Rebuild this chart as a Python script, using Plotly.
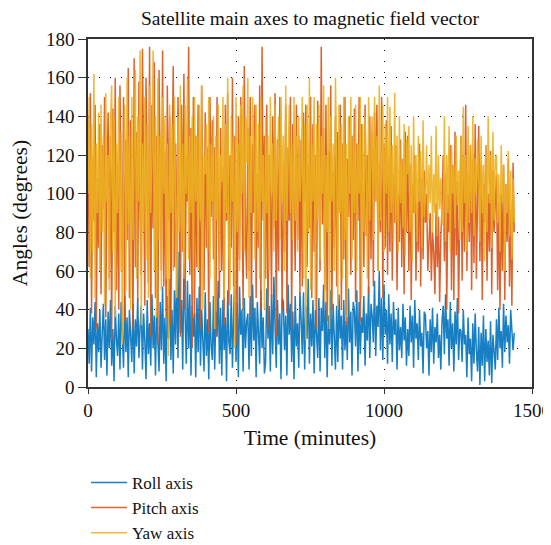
import plotly.graph_objects as go

# one sample every 4 minutes, 0..1440
step_minutes = 4

roll_axis = [
    30, 12, 41, 8, 36, 22, 44, 5, 33, 18, 40, 10, 28, 43, 14,
    35, 6, 39, 20, 45, 11, 30, 3, 42, 25, 16, 38, 9, 44, 22,
    10, 47, 18, 36, 5, 40, 26, 13, 43, 7, 35, 21, 46, 15, 31,
    42, 9, 38, 24, 4, 45, 17, 33, 11, 48, 20, 37, 6, 41, 28,
    8, 44, 19, 52, 12, 36, 3, 47, 25, 56, 14, 40, 7, 50, 22,
    60, 15, 70, 28, 45, 9, 64, 33, 12, 55, 20, 48, 6, 42, 26,
    38, 5, 46, 18, 52, 11, 40, 24, 8, 49, 16, 35, 4, 44, 21,
    14, 47, 9, 39, 26, 55, 12, 41, 6, 45, 19, 36, 3, 50, 23,
    17, 48, 10, 37, 60, 13, 43, 5, 52, 27, 40, 8, 46, 20, 34,
    38, 9, 47, 16, 53, 24, 41, 5, 44, 29, 12, 50, 20, 36, 7,
    13, 51, 25, 42, 8, 48, 17, 57, 31, 10, 45, 22, 38, 4, 46,
    44, 19, 37, 6, 53, 27, 43, 13, 39, 4, 47, 21, 33, 10, 49,
    35, 17, 49, 9, 42, 25, 56, 12, 38, 21, 45, 7, 40, 28, 15,
    46, 8, 41, 29, 53, 15, 44, 5, 37, 22, 50, 11, 43, 26, 9,
    42, 13, 48, 25, 37, 9, 45, 19, 34, 14, 51, 23, 39, 6, 44,
    40, 21, 50, 8, 44, 17, 36, 28, 47, 11, 38, 24, 52, 15, 43,
    37, 23, 55, 16, 42, 31, 60, 19, 46, 14, 53, 27, 40, 12, 48,
    22, 38, 13, 44, 27, 35, 9, 41, 19, 31, 15, 43, 24, 36, 11,
    30, 16, 42, 23, 37, 10, 45, 25, 33, 14, 40, 21, 28, 7, 39,
    37, 20, 29, 6, 35, 18, 41, 12, 31, 23, 38, 15, 27, 9, 34,
    42, 17, 48, 25, 35, 11, 44, 20, 33, 8, 39, 22, 46, 14, 30,
    29, 13, 40, 22, 27, 5, 36, 17, 25, 3, 33, 12, 38, 19, 8,
    31, 1, 28, 11, 37, 3, 30, 13, 24, 6, 34, 2, 27, 15, 9,
    35, 14, 41, 20, 29, 10, 43, 18, 37, 23, 32, 12, 40, 25, 19,
    28,
]

pitch_axis = [
    140, 62, 152, 38, 118, 86, 146, 30, 108, 72, 136, 48, 125, 92, 150,
    36, 102, 142, 56, 130, 24, 144, 80, 160, 50, 116, 40, 156, 96, 60,
    150, 34, 128, 76, 165, 46, 138, 100, 30, 170, 62, 132, 44, 158, 88,
    58, 175, 90, 42, 160, 110, 54, 176, 26, 146, 82, 168, 46, 130, 22,
    164, 98, 60, 174, 52, 122, 36, 156, 86, 140, 32, 112, 166, 62, 126,
    46, 150, 92, 26, 146, 70, 162, 40, 120, 96, 176, 58, 134, 20, 150,
    36, 130, 62, 146, 80, 30, 156, 100, 50, 142, 72, 124, 28, 150, 88,
    138, 66, 124, 26, 150, 90, 46, 134, 60, 114, 32, 146, 86, 152, 42,
    120, 72, 160, 52, 130, 96, 22, 140, 66, 150, 110, 40, 166, 80, 56,
    134, 60, 150, 36, 126, 90, 146, 46, 110, 72, 156, 40, 176, 86, 130,
    56, 146, 30, 120, 100, 46, 140, 82, 152, 26, 128, 60, 150, 96, 40,
    116, 70, 146, 38, 124, 86, 150, 30, 136, 102, 60, 146, 76, 130, 48,
    128, 52, 142, 96, 146, 62, 116, 82, 150, 46, 136, 70, 120, 30, 148,
    104, 60, 176, 84, 134, 50, 146, 34, 122, 96, 156, 40, 112, 72, 140,
    52, 132, 90, 146, 40, 126, 66, 150, 32, 118, 88, 140, 58, 130, 76,
    144, 44, 126, 86, 150, 34, 136, 100, 62, 146, 78, 120, 48, 140, 66,
    132, 52, 142, 96, 146, 60, 116, 80, 150, 46, 126, 72, 138, 58, 118,
    70, 135, 55, 110, 85, 125, 50, 100, 75, 128, 62, 118, 48, 132, 80,
    130, 60, 115, 45, 105, 90, 120, 55, 95, 70, 126, 52, 108, 66, 112,
    85, 100, 60, 75, 90, 55, 80, 70, 48, 95, 62, 88, 44, 78, 92,
    120, 65, 110, 40, 100, 80, 125, 50, 115, 45, 132, 68, 106, 38, 94,
    130, 55, 120, 70, 146, 60, 110, 75, 125, 50, 118, 64, 136, 56, 104,
    135, 65, 115, 45, 105, 85, 125, 55, 100, 70, 122, 48, 112, 80, 96,
    110, 50, 95, 40, 100, 60, 115, 45, 105, 75, 118, 52, 92, 42, 116,
    80,
]

yaw_axis = [
    100, 150, 56, 136, 70, 162, 46, 126, 90, 142, 60, 146, 80, 130, 42,
    152, 96, 120, 50, 136, 156, 70, 140, 36, 126, 90, 150, 60, 132, 22,
    110, 146, 50, 160, 84, 130, 40, 150, 76, 120, 164, 56, 140, 96, 174,
    32, 126, 80, 150, 66, 136, 46, 156, 90, 120, 174, 60, 140, 36, 160,
    76, 130, 50, 150, 100, 140, 56, 126, 16, 146, 90, 136, 60, 150, 110,
    46, 140, 80, 156, 70, 126, 56, 146, 100, 160, 66, 130, 90, 140, 50,
    150, 96, 130, 60, 146, 86, 156, 40, 120, 110, 136, 70, 150, 56, 126,
    96, 140, 30, 130, 86, 146, 60, 120, 106, 150, 46, 136, 90, 160, 70,
    50, 140, 96, 130, 20, 150, 80, 126, 60, 146, 100, 156, 70, 140, 116,
    160, 46, 130, 90, 150, 126, 66, 146, 80, 136, 56, 150, 96, 120, 40,
    140, 90, 130, 60, 150, 100, 126, 70, 146, 86, 116, 140, 76, 150, 96,
    130, 60, 156, 86, 120, 146, 90, 126, 76, 150, 86, 130, 70, 140, 96,
    110, 150, 56, 136, 24, 146, 80, 160, 50, 126, 96, 150, 40, 136, 86,
    146, 66, 130, 100, 156, 44, 120, 80, 150, 30, 140, 96, 126, 60, 160,
    116, 40, 146, 90, 136, 56, 150, 76, 126, 36, 140, 100, 150, 66, 130,
    90, 146, 60, 126, 100, 150, 46, 136, 80, 140, 110, 56, 150, 86, 120,
    140, 76, 150, 96, 130, 60, 156, 86, 120, 146, 70, 136, 100, 150, 80,
    145, 90, 125, 75, 152, 85, 130, 70, 140, 95, 118, 82, 136, 68, 128,
    110, 135, 80, 125, 65, 140, 90, 120, 75, 130, 96, 122, 72, 138, 88,
    100, 125, 85, 115, 95, 130, 80, 110, 90, 135, 78, 120, 92, 108, 84,
    85, 140, 75, 120, 90, 135, 70, 125, 100, 115, 82, 130, 94, 112, 76,
    130, 80, 145, 95, 120, 70, 135, 85, 125, 90, 140, 78, 118, 100, 128,
    110, 75, 130, 90, 115, 65, 125, 80, 140, 95, 120, 72, 132, 86, 118,
    120, 85, 110, 70, 125, 95, 115, 60, 105, 90, 122, 78, 112, 66, 108,
    85,
]

series_names = ["Roll axis", "Pitch axis", "Yaw axis"]
series_values = [roll_axis, pitch_axis, yaw_axis]
series_colors = ["#0072BD", "#D95319", "#EDB120"]

x_ticks = [0, 500, 1000, 1500]
y_ticks = [0, 20, 40, 60, 80, 100, 120, 140, 160, 180]

FONT = "Liberation Serif"

fig = go.Figure()
for name, vals, col in zip(series_names, series_values, series_colors):
    fig.add_trace(go.Scatter(
        x=[i * step_minutes for i in range(len(vals))], y=vals,
        mode="lines", name=name,
        line=dict(color=col, width=1.5), opacity=0.9,
    ))

axis_common = dict(
    showline=True, linecolor="#333", linewidth=1.5, mirror=True,
    ticks="outside", tickcolor="#333", tickwidth=1.2,
    showgrid=True, gridcolor="#111", griddash="1px,10px", gridwidth=1,
    zeroline=False, automargin=False,
    tickfont=dict(family=FONT, size=19, color="#111"),
)

# page body has an 8px margin, margins compensate for it
fig.update_layout(
    width=551, height=545,
    margin=dict(l=80, r=27, t=31, b=166, autoexpand=False),
    paper_bgcolor="white", plot_bgcolor="white",
    font=dict(family=FONT, color="#111"),
    title=dict(text="Satellite main axes to magnetic field vector",
               x=0.548, xanchor="center", y=0.981, yanchor="middle",
               font=dict(family=FONT, size=19.5, color="#111")),
    xaxis=dict(range=[0, 1500], tickvals=x_ticks, ticklen=5,
               title=dict(text="Time (minutes)", font=dict(family=FONT, size=21.5),
                          standoff=10),
               **axis_common),
    yaxis=dict(range=[0, 180], tickvals=y_ticks, ticklen=8,
               title=dict(text="Angles (degrees)", font=dict(family=FONT, size=21.5)),
               **axis_common),
    showlegend=True,
    legend=dict(x=-0.0045, xanchor="left", y=-0.224, yanchor="top",
                font=dict(family=FONT, size=17, color="#111"),
                bgcolor="rgba(0,0,0,0)", itemwidth=36),
)

fig.write_html("out.html")
